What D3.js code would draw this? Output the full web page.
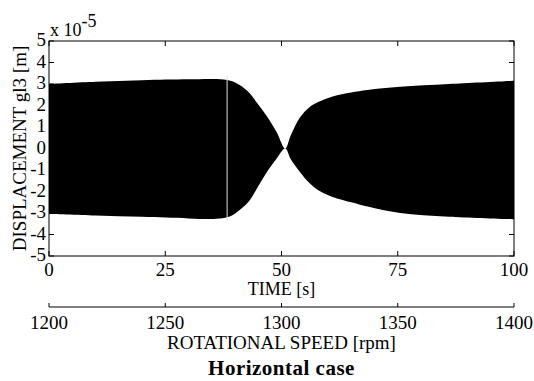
<!DOCTYPE html>
<html>
<head>
<meta charset="utf-8">
<script src="https://cdn.jsdelivr.net/npm/d3@7"></script>
<style>
  body { margin: 0; background: #fff; }
</style>
</head>
<body>
<div id="chart"></div>
<script>
/* envelope of the displacement signal (units of 1e-5 m) */
const time_s = [0, 10, 20, 30, 36, 39, 41, 43, 45, 47, 49, 50.8, 52, 54, 56, 58, 61, 65, 68.5, 75.5, 86, 100];
const upper_env = [3.0, 3.1, 3.18, 3.22, 3.23, 3.15, 2.95, 2.6, 2.05, 1.45, 0.75, 0, 0.62, 1.45, 1.92, 2.17, 2.42, 2.6, 2.72, 2.87, 3.0, 3.15];
const lower_env = [-3.05, -3.12, -3.18, -3.25, -3.27, -3.15, -2.86, -2.45, -1.75, -1.05, -0.45, 0, -0.5, -1.1, -1.6, -1.95, -2.25, -2.5, -2.7, -3.0, -3.17, -3.29];
/* thin white gap in the record */
const gap_time = [38.3];

const y_ticks = [-5, -4, -3, -2, -1, 0, 1, 2, 3, 4, 5];
const time_ticks = [0, 25, 50, 75, 100];
const rpm_ticks = [1200, 1250, 1300, 1350, 1400];

const FONT = "'Liberation Serif', 'Times New Roman', 'DejaVu Serif', serif";
const W = 534, H = 381;
const margin = { top: 41, right: 20, bottom: 125, left: 49 },
    width = W - margin.left - margin.right,
    height = H - margin.top - margin.bottom;

const svg = d3.select("#chart")
    .append("svg")
    .attr("width", W)
    .attr("height", H)
    .style("font-family", FONT);

const g = svg.append("g")
    .attr("transform", `translate(${margin.left}, ${margin.top})`);

const x = d3.scaleLinear().domain([0, 100]).range([0, width]);
const y = d3.scaleLinear().domain([-5, 5]).range([height, 0]);
const rpm = d3.scaleLinear().domain([1200, 1400]).range([0, width]);

const env = time_s.map((t, i) => ({ t: t, hi: upper_env[i], lo: lower_env[i] }));

/* the filled signal */
g.append("path")
    .datum(env)
    .attr("fill", "#000")
    .attr("d", d3.area()
        .x(d => x(d.t))
        .y0(d => y(d.lo))
        .y1(d => y(d.hi))
        .curve(d3.curveCatmullRom.alpha(0.5)));

g.selectAll(".gap")
    .data(gap_time)
    .join("line")
    .attr("x1", d => x(d)).attr("x2", d => x(d))
    .attr("y1", y(3.4)).attr("y2", y(-3.4))
    .attr("stroke", "#ddd")
    .attr("stroke-width", 1);

/* frame with inward ticks on all sides */
const tk = 5;
g.append("rect")
    .attr("x", 0).attr("y", 0)
    .attr("width", width).attr("height", height)
    .attr("fill", "none")
    .attr("stroke", "#000")
    .attr("stroke-width", 1);

const yt = g.append("g");
y_ticks.forEach(v => {
    yt.append("line").attr("x1", 0).attr("x2", tk).attr("y1", y(v)).attr("y2", y(v)).attr("stroke", "#000");
    yt.append("line").attr("x1", width).attr("x2", width - tk).attr("y1", y(v)).attr("y2", y(v)).attr("stroke", "#000");
    yt.append("text")
        .attr("x", -3).attr("y", y(v) + 5)
        .attr("text-anchor", "end")
        .attr("font-size", 19)
        .text(v);
});

const xt = g.append("g");
time_ticks.forEach(v => {
    xt.append("line").attr("x1", x(v)).attr("x2", x(v)).attr("y1", height).attr("y2", height - tk).attr("stroke", "#000");
    xt.append("line").attr("x1", x(v)).attr("x2", x(v)).attr("y1", 0).attr("y2", tk).attr("stroke", "#000");
    xt.append("text")
        .attr("x", x(v)).attr("y", height + 20)
        .attr("text-anchor", "middle")
        .attr("font-size", 19)
        .text(v);
});

/* exponent label */
const ex = g.append("text").attr("x", 1).attr("y", -5).attr("font-size", 18);
ex.append("tspan").text("x 10");
ex.append("tspan").attr("dy", -9).text("-5");

g.append("text")
    .attr("x", width / 2).attr("y", height + 39)
    .attr("text-anchor", "middle")
    .attr("font-size", 18)
    .text("TIME [s]");

g.append("text")
    .attr("transform", `translate(${26 - margin.left}, ${height / 2}) rotate(-90)`)
    .attr("text-anchor", "middle")
    .attr("font-size", 19)
    .text("DISPLACEMENT gl3 [m]");

/* second axis: rotational speed */
const ry = height + 51;
const ra = g.append("g");
ra.append("line")
    .attr("x1", 0).attr("x2", width)
    .attr("y1", ry).attr("y2", ry)
    .attr("stroke", "#000");
rpm_ticks.forEach(v => {
    ra.append("line").attr("x1", rpm(v)).attr("x2", rpm(v)).attr("y1", ry).attr("y2", ry - 4).attr("stroke", "#000");
    ra.append("text")
        .attr("x", rpm(v)).attr("y", ry + 22)
        .attr("text-anchor", "middle")
        .attr("font-size", 19)
        .text(v);
});

g.append("text")
    .attr("x", width / 2).attr("y", ry + 42)
    .attr("text-anchor", "middle")
    .attr("font-size", 19)
    .text("ROTATIONAL SPEED [rpm]");

g.append("text")
    .attr("x", width / 2).attr("y", ry + 68)
    .attr("text-anchor", "middle")
    .attr("font-size", 21)
    .attr("font-weight", "bold")
    .attr("letter-spacing", 0.5)
    .text("Horizontal case");
</script>
</body>
</html>
